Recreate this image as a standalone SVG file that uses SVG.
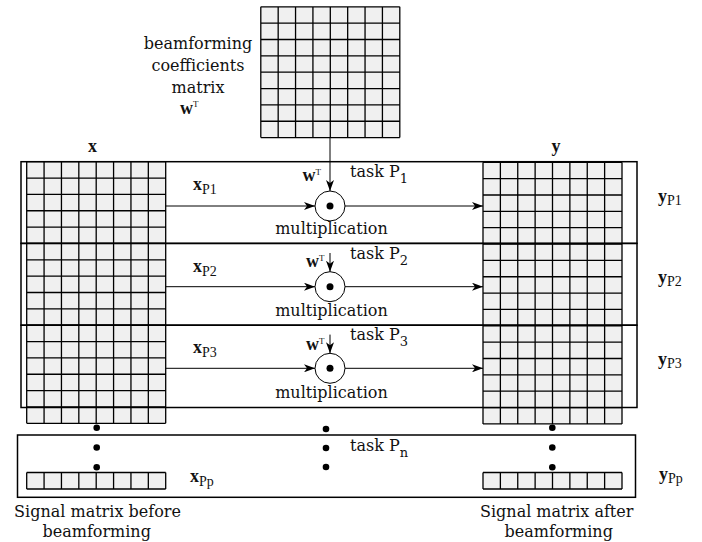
<svg xmlns="http://www.w3.org/2000/svg" xmlns:xlink="http://www.w3.org/1999/xlink" width="702" height="542" viewBox="0 0 702 542">
<style>
.bg{fill:#f0f0f0}
.grid{fill:none;stroke:#000;stroke-width:1.3}
.box{fill:none;stroke:#000;stroke-width:1.5}
.ln{fill:none;stroke:#000;stroke-width:1}
.dot{fill:#000}
.t{font-family:"DejaVu Serif",serif;font-size:16px;fill:#111}
.m{font-family:"Liberation Serif",serif;font-size:18px;font-weight:bold;fill:#111}
.sub{font-family:"Liberation Serif",serif;font-size:14px;font-weight:normal}
.sup{font-family:"Liberation Serif",serif;font-size:9px;font-weight:normal}
</style>
<defs>
<marker id="arr" markerUnits="userSpaceOnUse" viewBox="0 0 11 8" markerWidth="11" markerHeight="8" refX="11" refY="4" orient="auto">
<path d="M0,0 L11,4 L0,8 L3,4 z" fill="#000"/>
</marker>
<path id="g16" d="M0 0V261.6M17.375 0V261.6M34.75 0V261.6M52.125 0V261.6M69.5 0V261.6M86.875 0V261.6M104.25 0V261.6M121.625 0V261.6M139 0V261.6M0 0H139M0 16.35H139M0 32.7H139M0 49.05H139M0 65.4H139M0 81.75H139M0 98.1H139M0 114.45H139M0 130.8H139M0 147.15H139M0 163.5H139M0 179.85H139M0 196.2H139M0 212.55H139M0 228.9H139M0 245.25H139M0 261.6H139"/>
<path id="g8" d="M0 0V130.8M17.375 0V130.8M34.75 0V130.8M52.125 0V130.8M69.5 0V130.8M86.875 0V130.8M104.25 0V130.8M121.625 0V130.8M139 0V130.8M0 0H139M0 16.35H139M0 32.7H139M0 49.05H139M0 65.4H139M0 81.75H139M0 98.1H139M0 114.45H139M0 130.8H139"/>
<path id="g1" d="M0 0V16.5M17.375 0V16.5M34.75 0V16.5M52.125 0V16.5M69.5 0V16.5M86.875 0V16.5M104.25 0V16.5M121.625 0V16.5M139 0V16.5M0 0H139M0 16.5H139"/>
</defs>

<g id="matrix-w" transform="translate(260.8,6.8)">
<rect class="bg" width="139" height="130.8"/>
<use xlink:href="#g8" class="grid"/>
</g>
<g id="label-w">
<text class="t" x="198" y="49" text-anchor="middle">beamforming</text>
<text class="t" x="198" y="71" text-anchor="middle">coefficients</text>
<text class="t" x="198" y="93" text-anchor="middle">matrix</text>
<text class="m" x="180" y="114">w<tspan class="sup" dy="-7">T</tspan></text>
</g>

<g id="matrix-x" transform="translate(26.7,161.7)">
<rect class="bg" width="139" height="261.6"/>
<use xlink:href="#g16" class="grid"/>
</g>
<g id="matrix-y" transform="translate(483,162.3)">
<rect class="bg" width="139" height="261.6"/>
<use xlink:href="#g16" class="grid"/>
</g>
<g id="row-xp" transform="translate(26.7,472.5)">
<rect class="bg" width="139" height="16.5"/>
<use xlink:href="#g1" class="grid"/>
</g>
<g id="row-yp" transform="translate(483,472.5)">
<rect class="bg" width="139" height="16.5"/>
<use xlink:href="#g1" class="grid"/>
</g>

<g id="task-1"><rect class="box" x="21" y="161.7" width="616" height="81.7"/></g>
<g id="task-2"><rect class="box" x="21" y="243.4" width="616" height="81.8"/></g>
<g id="task-3"><rect class="box" x="21" y="325.2" width="616" height="82.3"/></g>
<g id="task-n"><rect class="box" x="17.5" y="435" width="618" height="62.3"/></g>

<g id="connectors">
<path class="ln" d="M330 137.6V191" marker-end="url(#arr)"/>
<path class="ln" d="M330 253V271.7" marker-end="url(#arr)"/>
<path class="ln" d="M330 334.6V353.3" marker-end="url(#arr)"/>
<path class="ln" d="M165.7 206H315" marker-end="url(#arr)"/>
<path class="ln" d="M345 206H483" marker-end="url(#arr)"/>
<path class="ln" d="M165.7 286.7H315" marker-end="url(#arr)"/>
<path class="ln" d="M345 286.7H483" marker-end="url(#arr)"/>
<path class="ln" d="M165.7 368.3H315" marker-end="url(#arr)"/>
<path class="ln" d="M345 368.3H483" marker-end="url(#arr)"/>
</g>

<g id="mult-1">
<circle class="ln" cx="330" cy="206" r="15" fill="#fff"/>
<circle class="dot" cx="330" cy="206" r="3.5"/>
</g>
<g id="mult-2">
<circle class="ln" cx="330" cy="286.7" r="15" fill="#fff"/>
<circle class="dot" cx="330" cy="286.7" r="3.5"/>
</g>
<g id="mult-3">
<circle class="ln" cx="330" cy="368.3" r="15" fill="#fff"/>
<circle class="dot" cx="330" cy="368.3" r="3.5"/>
</g>

<g id="dots">
<circle class="dot" cx="96.7" cy="427.7" r="3.3"/>
<circle class="dot" cx="96.7" cy="447.5" r="3.3"/>
<circle class="dot" cx="96.7" cy="467.3" r="3.3"/>
<circle class="dot" cx="326" cy="429" r="3.3"/>
<circle class="dot" cx="326" cy="448" r="3.3"/>
<circle class="dot" cx="326" cy="467" r="3.3"/>
<circle class="dot" cx="552.3" cy="427.7" r="3.3"/>
<circle class="dot" cx="552.3" cy="447.5" r="3.3"/>
<circle class="dot" cx="552.3" cy="467.3" r="3.3"/>
</g>

<g id="labels">
<text class="m" x="88" y="151.5">x</text>
<text class="m" x="551.5" y="151.5">y</text>

<text class="m" x="193" y="190">x<tspan class="sub" dy="4">P1</tspan></text>
<text class="m" x="193" y="271.7">x<tspan class="sub" dy="4">P2</tspan></text>
<text class="m" x="193" y="353.3">x<tspan class="sub" dy="4">P3</tspan></text>
<text class="m" x="190" y="482">x<tspan class="sub" dy="4">Pp</tspan></text>

<text class="m" x="658" y="201.5">y<tspan class="sub" dy="3">P1</tspan></text>
<text class="m" x="658" y="283.2">y<tspan class="sub" dy="3">P2</tspan></text>
<text class="m" x="658" y="364.8">y<tspan class="sub" dy="3">P3</tspan></text>
<text class="m" x="659" y="480">y<tspan class="sub" dy="3">Pp</tspan></text>

<text class="m" x="302.5" y="180.7">w<tspan class="sup" dy="-6">T</tspan></text>
<text class="m" x="306" y="266.7">w<tspan class="sup" dy="-6">T</tspan></text>
<text class="m" x="306" y="350">w<tspan class="sup" dy="-6">T</tspan></text>

<text class="t" x="350" y="177.3">task P<tspan font-size="13" dy="6">1</tspan></text>
<text class="t" x="350" y="258.5">task P<tspan font-size="13" dy="6">2</tspan></text>
<text class="t" x="350" y="340">task P<tspan font-size="13" dy="6">3</tspan></text>
<text class="t" x="350" y="451">task P<tspan font-size="13" dy="6">n</tspan></text>

<text class="t" x="331.5" y="234" text-anchor="middle">multiplication</text>
<text class="t" x="331.5" y="316" text-anchor="middle">multiplication</text>
<text class="t" x="331.5" y="397.5" text-anchor="middle">multiplication</text>

<text class="t" x="97.5" y="517" text-anchor="middle">Signal matrix before</text>
<text class="t" x="96.7" y="536.5" text-anchor="middle">beamforming</text>
<text class="t" x="556.7" y="517" text-anchor="middle">Signal matrix after</text>
<text class="t" x="558.7" y="536.5" text-anchor="middle">beamforming</text>
</g>
</svg>
